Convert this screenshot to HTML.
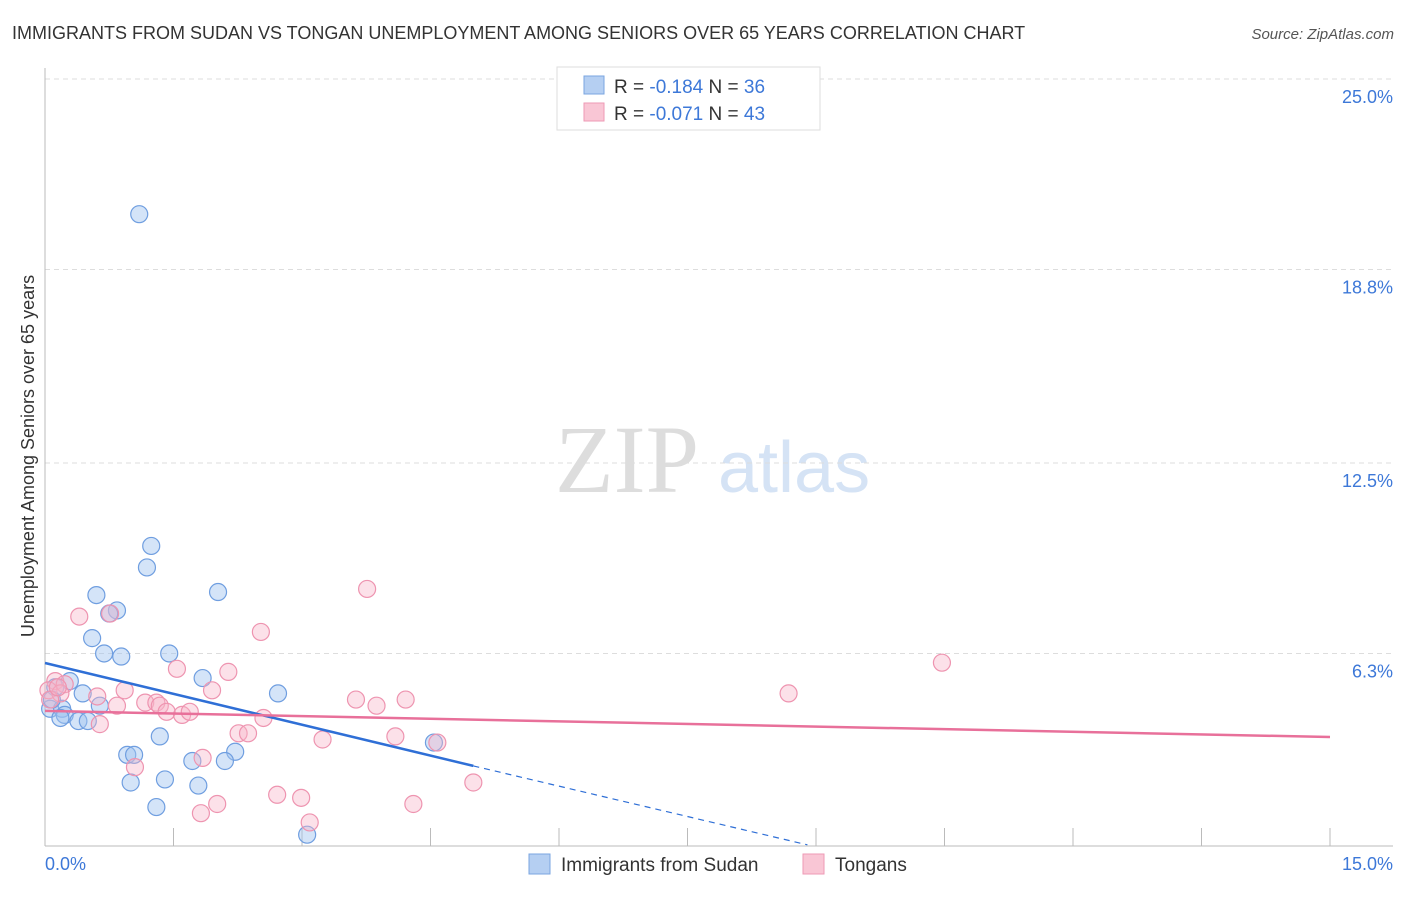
<!DOCTYPE html>
<html><head><meta charset="utf-8"><style>
body{margin:0;background:#fff;font-family:"Liberation Sans",sans-serif;}
</style></head><body>
<svg width="1406" height="892" xmlns="http://www.w3.org/2000/svg" font-family="Liberation Sans, sans-serif">
<text x="12" y="39" font-size="18" fill="#333">IMMIGRANTS FROM SUDAN VS TONGAN UNEMPLOYMENT AMONG SENIORS OVER 65 YEARS CORRELATION CHART</text>
<text x="1394" y="39" font-size="15" fill="#555" font-style="italic" text-anchor="end">Source: ZipAtlas.com</text>
<text x="555" y="492" font-size="96" fill="#ddd" font-family="Liberation Serif, serif">ZIP</text>
<text x="718" y="492" font-size="72" fill="#d5e3f5">atlas</text>
<g id="grid"></g>
<line x1="45" y1="68" x2="45" y2="846" stroke="#bbb"/>
<line x1="45" y1="846" x2="1393" y2="846" stroke="#bbb"/>
<g id="xticks"></g>
<text x="45" y="870" font-size="18" fill="#3d78d8">0.0%</text>
<text x="1393" y="870" font-size="18" fill="#3d78d8" text-anchor="end">15.0%</text>
<text transform="translate(34,456) rotate(-90)" font-size="18" fill="#333" text-anchor="middle">Unemployment Among Seniors over 65 years</text>
<g id="pts"></g>
<g id="lines"></g>
<g>
<rect x="557" y="67" width="263" height="63" fill="#fff" stroke="#ddd"/>
<rect x="584" y="76" width="20" height="18" fill="#b5cff2" stroke="#7aa5e0"/>
<rect x="584" y="103" width="20" height="18" fill="#f9c6d5" stroke="#ee9ab5"/>
<text x="614" y="93" font-size="19" fill="#333">R = <tspan fill="#3d78d8">-0.184</tspan>   N = <tspan fill="#3d78d8">36</tspan></text>
<text x="614" y="120" font-size="19" fill="#333">R = <tspan fill="#3d78d8">-0.071</tspan>   N = <tspan fill="#3d78d8">43</tspan></text>
</g>
<g>
<rect x="529" y="854" width="21" height="20" fill="#b5cff2" stroke="#7aa5e0"/>
<text x="561" y="871" font-size="19" fill="#333">Immigrants from Sudan</text>
<rect x="803" y="854" width="21" height="20" fill="#f9c6d5" stroke="#ee9ab5"/>
<text x="835" y="871" font-size="19" fill="#333">Tongans</text>
</g>
</svg>
<script>
const yTicks=[25.0,18.8,12.5,6.3];
const yTickLabels=["25.0%","18.8%","12.5%","6.3%"];
const xTicks=[0,1.5,3,4.5,6,7.5,9,10.5,12,13.5,15];
const sudanX=[1.10,1.24,1.19,0.60,0.84,0.75,2.02,0.55,0.69,0.89,1.45,0.29,1.84,2.72,0.12,0.44,0.06,0.20,0.64,0.23,0.18,0.39,0.50,1.34,0.96,1.04,2.22,1.72,2.10,1.40,1.00,1.79,1.30,4.54,3.06,0.08];
const sudanY=[20.6,9.8,9.1,8.2,7.7,7.6,8.3,6.8,6.3,6.2,6.3,5.4,5.5,5.0,5.2,5.0,4.5,4.5,4.6,4.3,4.2,4.1,4.1,3.6,3.0,3.0,3.1,2.8,2.8,2.2,2.1,2.0,1.3,3.4,0.4,4.8];
const tonganX=[0.40,3.76,2.52,10.47,1.54,2.14,0.93,1.95,0.61,0.12,0.23,0.04,0.18,1.17,1.30,1.34,1.42,1.60,1.69,0.84,0.64,2.55,3.63,3.87,4.21,8.68,2.26,2.37,3.24,4.09,4.58,1.84,1.05,2.71,2.99,2.01,1.82,4.30,5.00,3.09,0.06,0.15,0.76];
const tonganY=[7.5,8.4,7.0,6.0,5.8,5.7,5.1,5.1,4.9,5.4,5.3,5.1,5.0,4.7,4.7,4.6,4.4,4.3,4.4,4.6,4.0,4.2,4.8,4.6,4.8,5.0,3.7,3.7,3.5,3.6,3.4,2.9,2.6,1.7,1.6,1.4,1.1,1.4,2.1,0.8,4.8,5.2,7.6];
const sudanTrend=[[0,5.99],[5.0,2.64]];
const sudanTrendExt=[[5.0,2.64],[8.9,0.07]];
const tonganTrend=[[0,4.43],[15,3.58]];
const X=v=>45+v/15*1285, Y=v=>847-v/25*768;
const NS="http://www.w3.org/2000/svg";
function mk(t,a,p){const e=document.createElementNS(NS,t);for(const k in a)e.setAttribute(k,a[k]);p.appendChild(e);return e;}
const grid=document.getElementById('grid');
yTicks.forEach((v,i)=>{
 const l=mk('line',{x1:45,x2:1393,y1:Y(v),y2:Y(v),stroke:'#ddd','stroke-dasharray':'5,4'},grid);
 
 
 const t=mk('text',{x:1393,y:Y(v)+24,'font-size':18,fill:'#3d78d8','text-anchor':'end'},grid);
 t.textContent=yTickLabels[i];
 
 
});
const xt=document.getElementById('xticks');
xTicks.forEach(v=>{
 const l=mk('line',{x1:X(v),x2:X(v),y1:828,y2:846,stroke:'#bbb'},xt);
 
 
});
const pts=document.getElementById('pts');
sudanX.forEach((x,i)=>{
 const c=mk('circle',{cx:X(x),cy:Y(sudanY[i]),r:8.5,fill:'rgba(160,195,240,0.45)',stroke:'#6f9ee0','stroke-width':1.2},pts);
 
 
});
tonganX.forEach((x,i)=>{
 const c=mk('circle',{cx:X(x),cy:Y(tonganY[i]),r:8.5,fill:'rgba(248,180,200,0.4)',stroke:'#ee94b0','stroke-width':1.2},pts);
 
 
});
const ln=document.getElementById('lines');
let a=mk('line',{x1:X(sudanTrend[0][0]),y1:Y(sudanTrend[0][1]),x2:X(sudanTrend[1][0]),y2:Y(sudanTrend[1][1]),stroke:'#2f6fd6','stroke-width':2.5},ln);


a=mk('line',{x1:X(sudanTrendExt[0][0]),y1:Y(sudanTrendExt[0][1]),x2:X(sudanTrendExt[1][0]),y2:Y(sudanTrendExt[1][1]),stroke:'#2f6fd6','stroke-width':1.2,'stroke-dasharray':'6,5'},ln);


a=mk('line',{x1:X(tonganTrend[0][0]),y1:Y(tonganTrend[0][1]),x2:X(tonganTrend[1][0]),y2:Y(tonganTrend[1][1]),stroke:'#e8709a','stroke-width':2.5},ln);


</script>
</body></html>
